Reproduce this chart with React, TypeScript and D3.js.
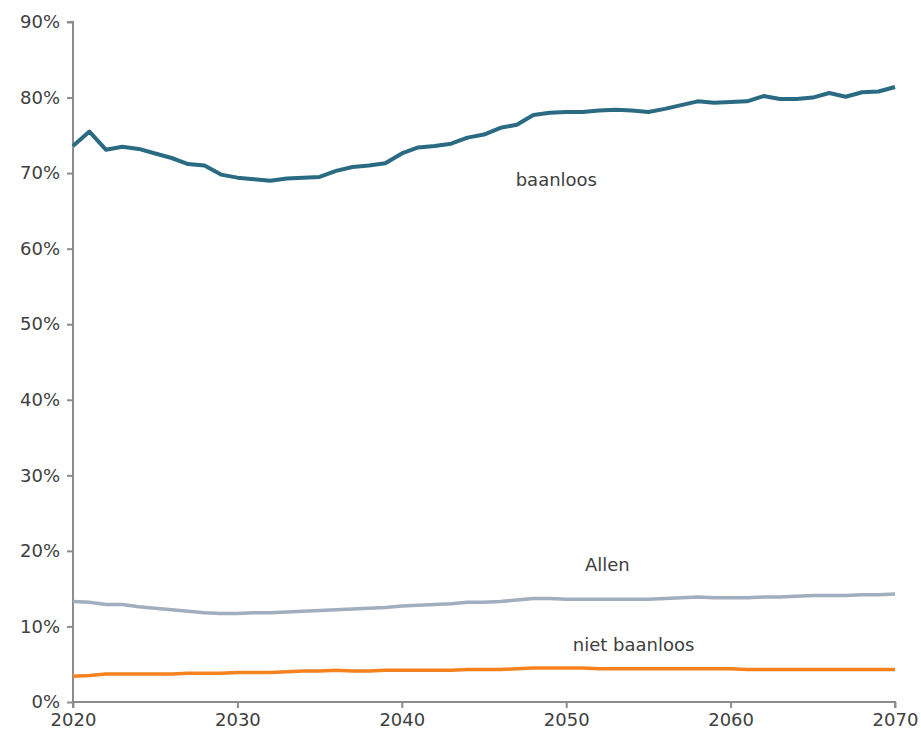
import { useEffect, useRef } from 'react';
import * as d3 from 'd3';

const years = d3.range(2020, 2071);

const baanloos = [
  73.6, 75.5, 73.1, 73.5, 73.2, 72.6, 72.0, 71.2, 71.0, 69.8,
  69.4, 69.2, 69.0, 69.3, 69.4, 69.5, 70.3, 70.8, 71.0, 71.3,
  72.6, 73.4, 73.6, 73.9, 74.7, 75.1, 76.0, 76.4, 77.7, 78.0,
  78.1, 78.1, 78.3, 78.4, 78.3, 78.1, 78.5, 79.0, 79.5, 79.3,
  79.4, 79.5, 80.2, 79.8, 79.8, 80.0, 80.6, 80.1, 80.7, 80.8,
  81.4,
];

const allen = [
  13.3, 13.2, 12.9, 12.9, 12.6, 12.4, 12.2, 12.0, 11.8, 11.7,
  11.7, 11.8, 11.8, 11.9, 12.0, 12.1, 12.2, 12.3, 12.4, 12.5,
  12.7, 12.8, 12.9, 13.0, 13.2, 13.2, 13.3, 13.5, 13.7, 13.7,
  13.6, 13.6, 13.6, 13.6, 13.6, 13.6, 13.7, 13.8, 13.9, 13.8,
  13.8, 13.8, 13.9, 13.9, 14.0, 14.1, 14.1, 14.1, 14.2, 14.2,
  14.3,
];

const nietBaanloos = [
  3.4, 3.5, 3.7, 3.7, 3.7, 3.7, 3.7, 3.8, 3.8, 3.8,
  3.9, 3.9, 3.9, 4.0, 4.1, 4.1, 4.2, 4.1, 4.1, 4.2,
  4.2, 4.2, 4.2, 4.2, 4.3, 4.3, 4.3, 4.4, 4.5, 4.5,
  4.5, 4.5, 4.4, 4.4, 4.4, 4.4, 4.4, 4.4, 4.4, 4.4,
  4.4, 4.3, 4.3, 4.3, 4.3, 4.3, 4.3, 4.3, 4.3, 4.3,
  4.3,
];

const yTicks = [0, 10, 20, 30, 40, 50, 60, 70, 80, 90];
const xTicks = [2020, 2030, 2040, 2050, 2060, 2070];

const seriesList = [
  { name: 'Allen', values: allen, color: '#a1aebd', width: 3.5, label: { year: 2052.5, value: 17.3 } },
  { name: 'niet baanloos', values: nietBaanloos, color: '#f5821f', width: 3.5, label: { year: 2054.1, value: 6.8 } },
  { name: 'baanloos', values: baanloos, color: '#2a6a82', width: 4, label: { year: 2049.4, value: 68.3 } },
];

export default function App() {
  const svgRef = useRef<SVGSVGElement | null>(null);

  useEffect(() => {
    if (!svgRef.current) return;
    const W = 921;
    const H = 731;
    const margin = { top: 22, right: 26, bottom: 29, left: 73 };

    const svg = d3.select(svgRef.current).attr('width', W).attr('height', H);
    svg.selectAll('*').remove();

    const x = d3.scaleLinear().domain([2020, 2070]).range([margin.left, W - margin.right]);
    const y = d3.scaleLinear().domain([0, 90]).range([H - margin.bottom, margin.top]);

    const font = '"DejaVu Sans", Verdana, sans-serif';

    // y axis
    const yAxis = svg
      .append('g')
      .attr('transform', `translate(${margin.left},0)`)
      .call(
        d3
          .axisLeft(y)
          .tickValues(yTicks)
          .tickSize(6)
          .tickPadding(7)
          .tickFormat((d) => `${d}%`) as any
      );

    // x axis
    const xAxis = svg
      .append('g')
      .attr('transform', `translate(0,${H - margin.bottom})`)
      .call(
        d3
          .axisBottom(x)
          .tickValues(xTicks)
          .tickSize(6)
          .tickPadding(5)
          .tickFormat(d3.format('d')) as any
      );

    [yAxis, xAxis].forEach((ax) => {
      ax.select('.domain').attr('stroke', '#8c8c8c').attr('stroke-width', 2);
      ax.selectAll('.tick line').attr('stroke', '#8c8c8c').attr('stroke-width', 2);
      ax.selectAll('.tick text')
        .attr('fill', '#404040')
        .style('font-family', font)
        .style('font-size', '18px');
    });
    yAxis.selectAll('.domain').attr('d', `M-6,${y(90)}H0V${y(0)}`);
    xAxis.selectAll('.domain').attr('d', `M${x(2020)},6V0H${x(2070)}V6`);

    const line = d3
      .line<number>()
      .x((_, i) => x(years[i]))
      .y((d) => y(d));

    seriesList.forEach((s) => {
      svg
        .append('path')
        .datum(s.values)
        .attr('fill', 'none')
        .attr('stroke', s.color)
        .attr('stroke-width', s.width)
        .attr('stroke-linejoin', 'round')
        .attr('d', line);

      svg
        .append('text')
        .attr('x', x(s.label.year))
        .attr('y', y(s.label.value))
        .attr('text-anchor', 'middle')
        .attr('fill', '#404040')
        .style('font-family', font)
        .style('font-size', '18px')
        .text(s.name);
    });
  }, []);

  return (
    <svg
      ref={svgRef}
      style={{ display: 'block', position: 'absolute', left: 0, top: 0 }}
    ></svg>
  );
}
